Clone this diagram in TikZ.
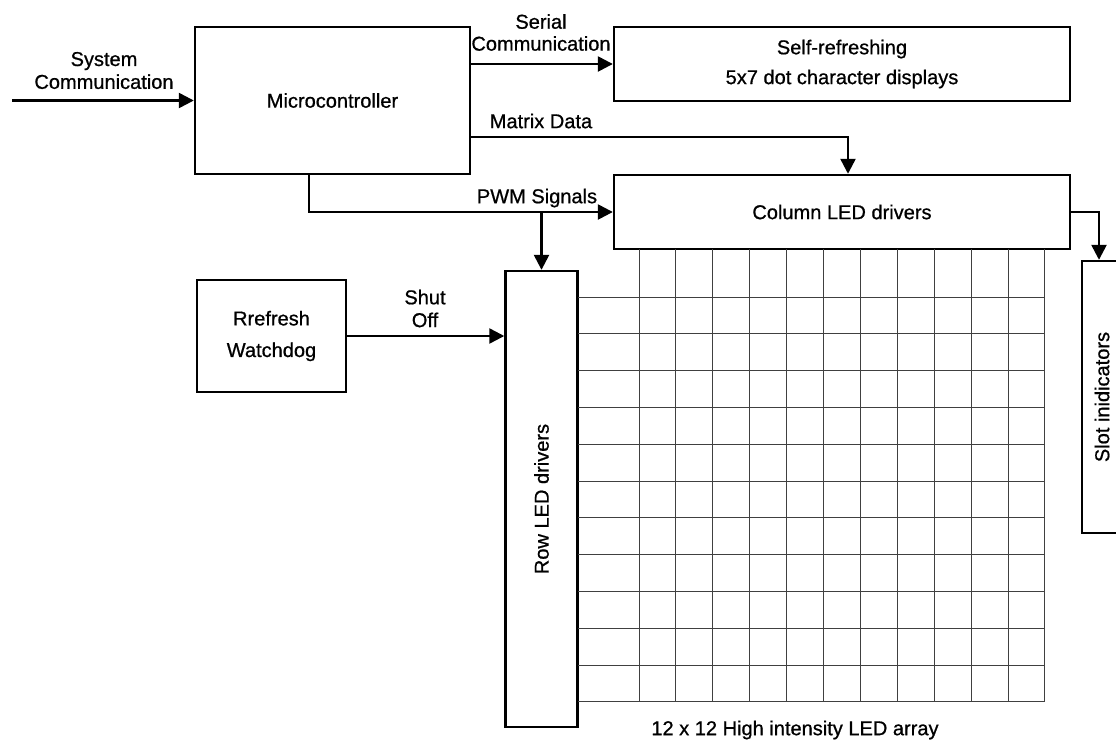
\documentclass[tikz,border=0pt]{standalone}
\usepackage{fontspec}
\setmainfont{Liberation Sans}[FakeBold=0.8]
\usetikzlibrary{arrows.meta}

\tikzset{
  block/.style={draw, line width=1.4pt, rectangle, align=center, inner sep=0pt},
  conn/.style={line width=1.4pt, -{Triangle[length=0.3cm, width=0.3cm]}},
  sig/.style={font=\fontsize{11.4}{12.5}\selectfont, align=center, inner sep=0pt},
  gridline/.style={line width=0.55pt, black!75},
}

\begin{document}
\begin{tikzpicture}[x=0.02cm, y=-0.02cm, font=\fontsize{11.4}{17}\selectfont]
        \clip (0,0) rectangle (1116,741);

        % blocks
        \node[block, minimum width=5.5cm, minimum height=2.94cm] (mc) at (332.5,100.5) {Microcontroller};
        \node[block, minimum width=9.12cm, minimum height=1.48cm] (sr) at (842,64) {Self-refreshing\\5x7 dot character displays};
        \node[block, minimum width=9.12cm, minimum height=1.48cm] (col) at (842,212) {Column LED drivers};
        \node[block, minimum width=1.44cm, minimum height=9.12cm,
              label={[rotate=90]center:Row LED drivers}] (row) at (541.5,499) {};
        \node[block, minimum width=2.98cm, minimum height=2.24cm,
              font=\fontsize{11.4}{18}\selectfont] (wd) at (271.5,336) {Rrefresh\\Watchdog};
        \node[block, minimum width=0.8cm, minimum height=5.44cm,
              label={[rotate=90]center:Slot inidicators}] (slot) at (1102,397) {};

        % 12 x 12 array
        \foreach \i in {0,...,11}{
            \draw[gridline] (639+36.9*\i, 249) -- (639+36.9*\i, 702);
            \draw[gridline] (578, 297+36.8*\i) -- (1045, 297+36.8*\i);
        }

        % signals
        \coordinate (sysin) at (12,100.5);
        \draw[conn] (sysin) -- (mc.west);
        \draw[conn] (mc.east |- sr.west) -- (sr.west);
        \draw[conn] ([yshift=-0.73cm]mc.east) -| ([xshift=0.12cm]col.north);
        \draw[conn] ([xshift=-0.47cm]mc.south) |- (col.west);
        \draw[conn] (row.north |- col.west) -- (row.north);
        \draw[conn] (wd.east) -- (wd.east -| row.west);
        \draw[conn] (col.east) -| ([xshift=-0.06cm]slot.north);

        \node[sig, font=\fontsize{11.4}{13}\selectfont] (syslab) at (104,70.5) {System\\Communication};
        \node[sig] (serlab) at (541,32.5) {Serial\\Communication};
        \node[sig] (matlab) at (541,121) {Matrix Data};
        \node[sig] (pwmlab) at (537,198) {PWM Signals};
        \node[sig, font=\fontsize{11.4}{13}\selectfont] (shutlab) at (425,308.5) {Shut\\Off};
        \node[sig] (arrlab) at (795,730) {12 x 12 High intensity LED array};
    \end{tikzpicture}
\end{document}
